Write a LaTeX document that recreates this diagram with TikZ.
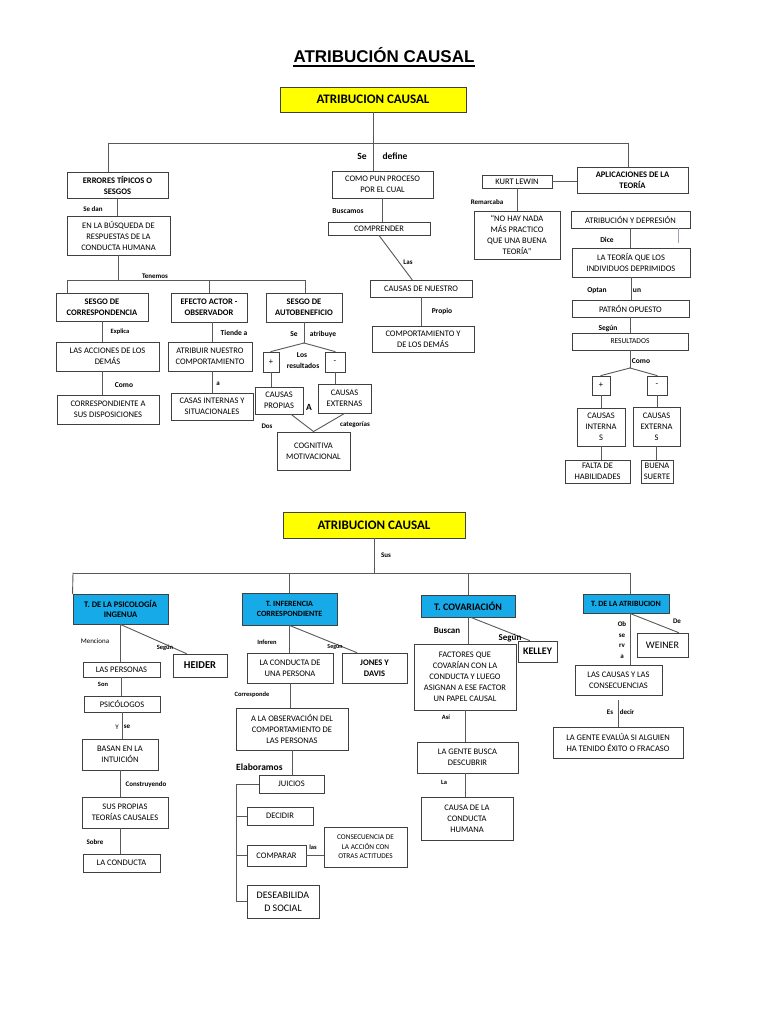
\documentclass[tikz,border=0pt]{standalone}
\usepackage{fontspec}
\setmainfont{Carlito}
\newfontfamily\titlefont{Liberation Sans}
\usetikzlibrary{calc, positioning}

\definecolor{amarillo}{RGB}{255,255,0}
\definecolor{azulT}{RGB}{22,170,232}

% box from its corners: [style] name, x1, y1, x2, y2, text
\newcommand{\cajon}[7][]{%
	\pgfmathsetmacro{\cajW}{#5-#3}\pgfmathsetmacro{\cajH}{#6-#4}%
	\pgfmathsetmacro{\cajX}{(#3+#5)/2}\pgfmathsetmacro{\cajY}{(#4+#6)/2}%
	\node[caja, minimum width=\cajW pt, minimum height=\cajH pt, #1] (#2) at (\cajX,\cajY) {#7};%
}
% straight drop from one box to the next
\newcommand{\baja}[2]{\draw[linea] (#1.south) -- (#1.south |- #2.north);}

\begin{document}
\begin{tikzpicture}[x=1pt, y=-1pt, line cap=rect]
	\tikzset{
		caja/.style={draw=black!75, line width=0.9pt, fill=white, align=center, inner sep=0pt, font=\fontsize{8.5}{11}\selectfont},
		cajab/.style={font=\bfseries\fontsize{8.5}{11}\selectfont},
		amarilla/.style={fill=amarillo, font=\bfseries\fontsize{13}{15}\selectfont},
		azul/.style={fill=azulT, font=\bfseries\fontsize{8}{10}\selectfont},
		linea/.style={draw=black!65, line width=0.9pt},
		etq/.style={font=\bfseries\fontsize{7}{8}\selectfont, inner sep=0pt},
		etqg/.style={font=\bfseries\fontsize{9.5}{11}\selectfont, inner sep=0pt},
		etqp/.style={font=\bfseries\fontsize{6.5}{7}\selectfont, inner sep=0pt}
	}
	\useasboundingbox[fill=white] (0,0) rectangle (768,1024);
	
	\node[font=\titlefont\bfseries\fontsize{17}{20}\selectfont, inner sep=0pt, anchor=base] (titulo) at (384,63) {ATRIBUCIÓN CAUSAL};
	\draw[line width=1.3pt] ($(titulo.base west)+(0,3)$) -- ($(titulo.base east)+(0,3)$);
	
	%% ---------------- first map ----------------
	\cajon[amarilla]{ac1}{280}{87}{466}{112}{ATRIBUCION CAUSAL}
	
	% left branch
	\cajon[cajab]{errores}{67}{172}{168}{198}{ERRORES TÍPICOS O\\SESGOS}
	\cajon{busqueda}{67}{216}{170}{255}{EN LA BÚSQUEDA DE\\RESPUESTAS DE LA\\CONDUCTA HUMANA}
	\cajon[cajab]{sesgocorr}{56}{293}{148}{321}{SESGO DE\\CORRESPONDENCIA}
	\cajon[cajab]{efecto}{171}{293}{247}{322}{EFECTO ACTOR -\\OBSERVADOR}
	\cajon[cajab]{autob}{266}{293}{342}{322}{SESGO DE\\AUTOBENEFICIO}
	\cajon{acciones}{56}{342}{159}{371}{LAS ACCIONES DE LOS\\DEMÁS}
	\cajon{corresp}{57}{395}{159}{424}{CORRESPONDIENTE A\\SUS DISPOSICIONES}
	\cajon{atribuir}{168}{342}{252}{371}{ATRIBUIR NUESTRO\\COMPORTAMIENTO}
	\cajon{casas}{171}{393}{253}{420}{CASAS INTERNAS Y\\SITUACIONALES}
	\cajon{mas1}{263}{352}{279}{372}{+}
	\cajon{menos1}{325}{352}{345}{372}{-}
	\cajon{propias}{255}{387}{303}{414}{CAUSAS\\PROPIAS}
	\cajon{externas}{318}{384}{371}{413}{CAUSAS\\EXTERNAS}
	\cajon{cognitiva}{277}{432}{350}{470}{COGNITIVA\\MOTIVACIONAL}
	
	% centre branch
	\cajon{comopun}{332}{171}{433}{198}{COMO PUN PROCESO\\POR EL CUAL}
	\cajon{comprender}{328}{222}{430}{235}{COMPRENDER}
	\cajon{nuestro}{370}{280}{472}{297}{CAUSAS DE NUESTRO}
	\cajon{comport}{372}{326}{474}{352}{COMPORTAMIENTO Y\\DE LOS DEMÁS}
	
	% right branch
	\cajon[cajab]{aplic}{577}{167}{688}{193}{APLICACIONES DE LA\\TEORÍA}
	\cajon{lewin}{482}{175}{552}{188}{KURT LEWIN}
	\cajon{nohay}{474}{211}{560}{259}{“NO HAY NADA\\MÁS PRACTICO\\QUE UNA BUENA\\TEORÍA”}
	\cajon{depres}{571}{211}{690}{228}{ATRIBUCIÓN Y DEPRESIÓN}
	\cajon{teoria}{572}{248}{690}{277}{LA TEORÍA  QUE LOS\\INDIVIDUOS DEPRIMIDOS}
	\cajon{patron}{572}{300}{689}{317}{PATRÓN OPUESTO}
	\cajon[font=\fontsize{7.5}{9}\selectfont]{result}{572}{333}{688}{350}{RESULTADOS}
	\cajon{mas2}{592}{376}{610}{395}{+}
	\cajon{menos2}{647}{376}{667}{395}{-}
	\cajon{internas}{577}{408}{625}{446}{CAUSAS\\INTERNA\\S}
	\cajon{externas2}{633}{407}{680}{446}{CAUSAS\\EXTERNA\\S}
	\cajon{falta}{565}{460}{630}{483}{FALTA DE\\HABILIDADES}
	\cajon{buena}{641}{460}{673}{483}{BUENA\\SUERTE}
	
	% buses
	\coordinate (b1L) at (108,143);
	\coordinate (b1R) at (628,143);
	\draw[linea] (b1L) -- (b1R);
	\draw[linea] (ac1.south) -- (ac1.south |- comopun.north);
	\draw[linea] (b1L) -- (b1L |- errores.north);
	\draw[linea] (b1R) -- (b1R |- aplic.north);
	\baja{errores}{busqueda}
	
	\coordinate (b2L) at (67,280);
	\coordinate (b2R) at (305,280);
	\draw[linea] (busqueda.south) -- (busqueda.south |- b2L);
	\draw[linea] (b2L) -- (b2R);
	\draw[linea] (b2L) -- (b2L |- sesgocorr.north);
	\draw[linea] (efecto.north |- b2L) -- (efecto.north);
	\draw[linea] (b2R) -- (b2R |- autob.north);
	
	\baja{sesgocorr}{acciones}
	\draw[linea] (sesgocorr.south |- acciones.south) -- (sesgocorr.south |- corresp.north);
	\draw[linea] ($(efecto.south)+(3,0)$) -- ($(efecto.south |- atribuir.north)+(3,0)$);
	\draw[linea] ($(efecto.south |- atribuir.south)+(3,0)$) -- ($(efecto.south |- casas.north)+(3,0)$);
	
	\coordinate (fork1) at (304,343);
	\draw[linea] (autob.south) -- (fork1);
	\draw[linea] (fork1) -- (mas1.north);
	\draw[linea] (fork1) -- (menos1.north);
	\draw[linea] (mas1.south) -- (mas1.south |- propias.north);
	\draw[linea] (menos1.south) -- (menos1.south |- externas.north);
	\draw[linea] ($(propias.south)!0.5!(propias.south east)$) -- (cognitiva.north);
	\draw[linea] (externas.south) -- (cognitiva.north);
	
	\baja{comopun}{comprender}
	\draw[linea] (comprender.south) -- ($(nuestro.north)+(-9,0)$);
	\baja{nuestro}{comport}
	
	\draw[linea] (lewin.east) -- (lewin.east -| aplic.west);
	\baja{lewin}{nohay}
	\draw[draw=blue!25!gray!60, line width=0.8pt] ($(depres.south east)+(-12,0)$) -- ++(0,14);
	\baja{depres}{teoria}
	\baja{teoria}{patron}
	\baja{patron}{result}
	\coordinate (fork2) at (630,368);
	\draw[linea] (result.south) -- (fork2);
	\draw[linea] (fork2) -- (mas2.north);
	\draw[linea] (fork2) -- (menos2.north);
	\draw[linea] (mas2.south) -- (mas2.south |- internas.north);
	\draw[linea] (menos2.south) -- (menos2.south |- externas2.north);
	\baja{internas}{falta}
	\baja{externas2}{buena}
	
	% link words
	\node[etq] (lSeDan) at (93,209) {Se dan};
	\node[etq] (lTenemos) at (155,276) {Tenemos};
	\node[etqp] (lExplica) at (120,332) {Explica};
	\node[etq, font=\bfseries\fontsize{7.5}{8}\selectfont] (lComo1) at (124,385) {Como};
	\node[etq, font=\bfseries\fontsize{7.5}{8}\selectfont] (lTiende) at (234,333) {Tiende a};
	\node[etq] (lA1) at (218,384) {a};
	\node[etq, font=\bfseries\fontsize{7.5}{8}\selectfont] (lSe1) at (294,334) {Se};
	\node[etq, font=\bfseries\fontsize{7.5}{8}\selectfont] (lAtribuye) at (323,334) {atribuye};
	\node[etq, font=\bfseries\fontsize{7.5}{8}\selectfont] (lLos) at (302,355) {Los};
	\node[etq, font=\bfseries\fontsize{7.5}{8}\selectfont] (lResult) at (303,366) {resultados};
	\node[etqg] (lAmay) at (309,407) {A};
	\node[etq] (lDos) at (267,426) {Dos};
	\node[etq] (lCateg) at (355,425) {categorías};
	\node[etqg] (lSe2) at (362,156) {Se};
	\node[etqg] (lDefine) at (395,156) {define};
	\node[etq, font=\bfseries\fontsize{7.5}{8}\selectfont] (lBuscamos) at (348,211) {Buscamos};
	\node[etq] (lLas) at (408,262) {Las};
	\node[etq, font=\bfseries\fontsize{7.5}{8}\selectfont] (lPropio) at (442,311) {Propio};
	\node[etq] (lRemarc) at (487,202) {Remarcaba};
	\node[etq, font=\bfseries\fontsize{7.5}{8}\selectfont] (lDice) at (607,240) {Dice};
	\node[etq, font=\bfseries\fontsize{7.5}{8}\selectfont] (lOptan) at (597,291) {Optan};
	\node[etq, font=\bfseries\fontsize{7.5}{8}\selectfont] (lUn) at (637,291) {un};
	\node[etq, font=\bfseries\fontsize{7.5}{8}\selectfont] (lSegun1) at (608,329) {Según};
	\node[etq, font=\bfseries\fontsize{7.5}{8}\selectfont] (lComo2) at (641,361) {Como};
	
	%% ---------------- second map ----------------
	\cajon[amarilla]{ac2}{283}{512}{465}{538}{ATRIBUCION CAUSAL}
	\cajon[azul, font=\bfseries\fontsize{8.5}{10.5}\selectfont]{psico}{73}{594}{168}{624}{T. DE LA PSICOLOGÍA\\INGENUA}
	\cajon[azul]{infer}{242}{593}{337}{625}{T. INFERENCIA\\CORRESPONDIENTE}
	\cajon[azul, font=\bfseries\fontsize{10}{12}\selectfont]{covar}{421}{595}{515}{617}{T. COVARIACIÓN}
	\cajon[azul]{teoatr}{583}{594}{669}{613}{T. DE LA ATRIBUCION}
	
	% ingenuous psychology
	\cajon{personas}{83}{662}{160}{677}{LAS PERSONAS}
	\cajon[cajab, font=\bfseries\fontsize{10.5}{12}\selectfont]{heider}{173}{654}{227}{677}{HEIDER}
	\cajon{psicologos}{84}{696}{160}{712}{PSICÓLOGOS}
	\cajon{basan}{82}{739}{158}{770}{BASAN EN LA\\INTUICIÓN}
	\cajon{propias2}{82}{797}{168}{828}{SUS PROPIAS\\TEORÍAS CAUSALES}
	\cajon{conducta}{83}{854}{160}{872}{LA CONDUCTA}
	
	% correspondent inference
	\cajon{lacond}{247}{653}{333}{683}{LA CONDUCTA DE\\UNA PERSONA}
	\cajon[cajab]{jones}{342}{653}{407}{683}{JONES Y\\DAVIS}
	\cajon{observ}{236}{708}{348}{750}{A LA OBSERVACIÓN DEL\\COMPORTAMIENTO DE\\LAS PERSONAS}
	\cajon{juicios}{259}{775}{324}{793}{JUICIOS}
	\cajon{decidir}{247}{807}{313}{825}{DECIDIR}
	\cajon{comparar}{247}{845}{306}{866}{COMPARAR}
	\cajon[font=\fontsize{7.3}{9.5}\selectfont]{consec}{324}{827}{407}{867}{CONSECUENCIA DE\\LA ACCIÓN CON\\OTRAS ACTITUDES}
	\cajon[font=\fontsize{10}{13}\selectfont]{deseab}{247}{885}{319}{918}{DESEABILIDA\\D SOCIAL}
	
	% covariation
	\cajon{factores}{414}{644}{516}{710}{FACTORES  QUE\\COVARÍAN CON LA\\CONDUCTA Y LUEGO\\ASIGNAN A ESE FACTOR\\UN PAPEL CAUSAL}
	\cajon[cajab, font=\bfseries\fontsize{10}{12}\selectfont]{kelley}{518}{641}{557}{662}{KELLEY}
	\cajon{gente}{417}{742}{518}{773}{LA GENTE BUSCA\\DESCUBRIR}
	\cajon{causa}{421}{797}{513}{840}{CAUSA DE LA\\CONDUCTA\\HUMANA}
	
	% attribution
	\cajon{causas2}{575}{665}{662}{695}{LAS CAUSAS Y LAS\\CONSECUENCIAS}
	\cajon[font=\fontsize{10}{12}\selectfont]{weiner}{637}{633}{688}{657}{WEINER}
	\cajon{evalua}{553}{727}{683}{758}{LA GENTE EVALÚA SI ALGUIEN\\HA TENIDO ÉXITO O FRACASO}
	
	% bus
	\coordinate (b3L) at (73,573);
	\coordinate (b3R) at (630,573);
	\draw[linea] (ac2.south) -- (ac2.south |- b3L);
	\draw[linea] (b3L) -- (b3R);
	\draw[linea] (b3L) -- (psico.north west);
	\draw[linea] (infer.north |- b3L) -- (infer.north);
	\draw[linea] (covar.north |- b3L) -- (covar.north);
	\draw[linea] (b3R) -- (b3R |- teoatr.north);
	
	\baja{psico}{personas}
	\draw[linea] (psico.south) -- ($(heider.north west)!0.25!(heider.north east)$);
	\baja{personas}{psicologos}
	\baja{psicologos}{basan}
	\baja{basan}{propias2}
	\draw[linea] (basan.south |- propias2.south) -- (basan.south |- conducta.north);
	
	\baja{infer}{lacond}
	\draw[linea] (infer.south) -- ($(jones.north west)!0.23!(jones.north east)$);
	\baja{lacond}{observ}
	\baja{observ}{juicios}
	\draw[linea] (juicios.west) -- ++(-22,0) coordinate (brTop) -- (brTop |- deseab.west) -- (deseab.west);
	\draw[linea] (decidir.west) -- (decidir.west -| brTop);
	\draw[linea] (comparar.west) -- (comparar.west -| brTop);
	\draw[linea] (comparar.east) -- (comparar.east -| consec.west);
	
	\baja{covar}{factores}
	\draw[linea] ($(covar.south)+(3,0)$) -- ($(kelley.north west)!0.3!(kelley.north east)$);
	\baja{factores}{gente}
	\draw[linea] (factores.south |- gente.south) -- (factores.south |- causa.north);
	
	\draw[linea] ($(teoatr.south)+(4,0)$) -- ($(teoatr.south |- causas2.north)+(4,0)$);
	\draw[linea] ($(teoatr.south)+(4,0)$) -- ($(weiner.north east)+(-10,0)$);
	\draw[linea] ($(causas2.south)+(0,5)$) -- (causas2.south |- evalua.north);
	
	% link words
	\node[etq] (lSus) at (386,555) {Sus};
	\node[etq, font=\fontsize{7}{8}\selectfont] (lMenciona) at (95,641) {Menciona};
	\node[etqp] (lSegun2) at (165,648) {Según};
	\node[etqp] (lSon) at (103,684) {Son};
	\node[etq, font=\fontsize{7}{8}\selectfont] (lY) at (117,727) {Y};
	\node[etq] (lSe3) at (127,727) {se};
	\node[etq] (lConstr) at (146,785) {Construyendo};
	\node[etq] (lSobre) at (95,842) {Sobre};
	\node[etqp] (lInferen) at (267,642) {Inferen};
	\node[etqp, font=\bfseries\fontsize{6}{7}\selectfont] (lSegun3) at (335,647) {Según};
	\node[etqp] (lCorresp) at (252,695) {Corresponde};
	\node[etqg, anchor=west] (lElabor) at (236,767) {Elaboramos};
	\node[etqp] (lLas2) at (313,847) {las};
	\node[etq, font=\bfseries\fontsize{9}{10}\selectfont] (lBuscan) at (447,631) {Buscan};
	\node[etq, font=\bfseries\fontsize{9}{10}\selectfont] (lSegun4) at (510,638) {Según};
	\node[etqp] (lAsi) at (446,717) {Así};
	\node[etqp] (lLa) at (444,782) {La};
	\node[etq, font=\bfseries\fontsize{7}{10.5}\selectfont, align=center] (lObserva) at (622,640) {Ob\\se\\rv\\a};
	\node[etq] (lDe) at (677,621) {De};
	\node[etq] (lEs) at (610,712) {Es};
	\node[etq] (lDecir) at (627,712) {decir};
\end{tikzpicture}
\end{document}
